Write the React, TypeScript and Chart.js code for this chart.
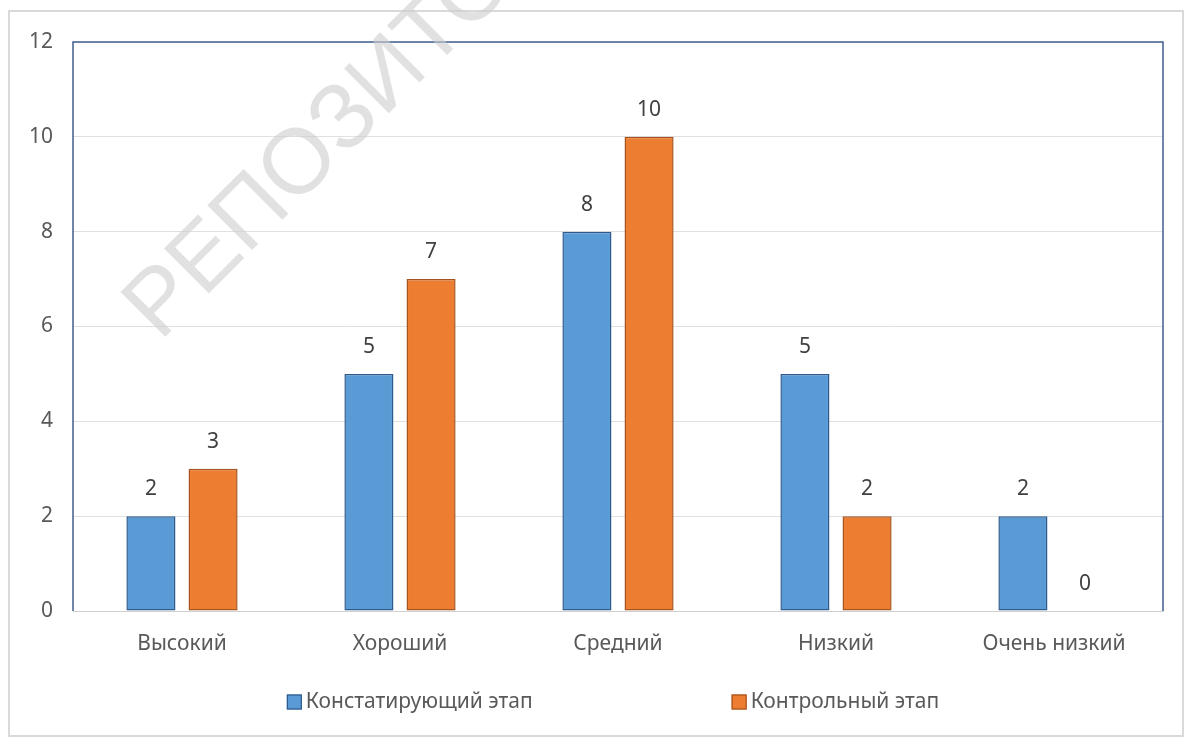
import React, { useEffect, useRef } from "react";
import { Chart, registerables } from "chart.js";

Chart.register(...registerables);

const categories = ["Высокий", "Хороший", "Средний", "Низкий", "Очень низкий"];
const seriesNames = ["Констатирующий этап", "Контрольный этап"];
const ascertainingValues = [2, 5, 8, 5, 2];
const controlValues = [3, 7, 10, 2, 0];
const yTicks = [0, 2, 4, 6, 8, 10, 12];
const watermarkText = "РЕПОЗИТОРИЙ";

const FONT = "'Noto Sans', 'Open Sans', sans-serif";
const TEXT = "#595959";

const framePlugin = {
  id: "frame",
  beforeDraw(chart: any) {
    const ctx = chart.ctx;
    ctx.save();
    ctx.fillStyle = "#ffffff";
    ctx.fillRect(0, 0, chart.width, chart.height);
    ctx.strokeStyle = "#d9d9d9";
    ctx.lineWidth = 2;
    ctx.strokeRect(9, 11, chart.width - 19, chart.height - 12);
    ctx.restore();
  },
  beforeDatasetsDraw(chart: any) {
    const { ctx, chartArea } = chart;
    ctx.save();
    ctx.strokeStyle = "#3f5f8f";
    ctx.lineWidth = 1.5;
    ctx.beginPath();
    ctx.moveTo(chartArea.left, chartArea.bottom);
    ctx.lineTo(chartArea.left, chartArea.top);
    ctx.lineTo(chartArea.right, chartArea.top);
    ctx.lineTo(chartArea.right, chartArea.bottom);
    ctx.stroke();
    ctx.restore();
  },
};

const valueLabelPlugin = {
  id: "valueLabels",
  afterDatasetsDraw(chart: any) {
    const ctx = chart.ctx;
    ctx.save();
    ctx.font = `21px ${FONT}`;
    ctx.fillStyle = "#404040";
    ctx.textAlign = "center";
    ctx.textBaseline = "middle";
    chart.data.datasets.forEach((ds: any, i: number) => {
      const meta = chart.getDatasetMeta(i);
      meta.data.forEach((bar: any, j: number) => {
        ctx.fillText(String(ds.data[j]), bar.x, bar.y - 27);
      });
    });
    ctx.restore();
  },
};

const legendPlugin = {
  id: "customLegend",
  afterDraw(chart: any) {
    const { ctx, chartArea } = chart;
    ctx.save();
    ctx.font = `21px ${FONT}`;
    ctx.textBaseline = "middle";
    ctx.textAlign = "left";
    const box = 15;
    const gapText = 4;
    const gapItems = 199;
    const items = chart.data.datasets.map((ds: any) => ({
      label: ds.label,
      fill: ds.backgroundColor,
      stroke: ds.borderColor,
      w: box + gapText + ctx.measureText(ds.label).width,
    }));
    const total = items.reduce((s: number, it: any) => s + it.w, 0) + gapItems * (items.length - 1);
    let x = (chartArea.left + chartArea.right) / 2 - 5 - total / 2;
    const y = 702;
    items.forEach((it: any) => {
      ctx.fillStyle = it.fill;
      ctx.fillRect(x, y - box / 2, box, box);
      ctx.strokeStyle = it.stroke;
      ctx.lineWidth = 1.2;
      ctx.strokeRect(x + 0.5, y - box / 2 + 0.5, box - 1, box - 1);
      ctx.fillStyle = TEXT;
      ctx.fillText(it.label, x + box + gapText, y);
      x += it.w + gapItems;
    });
    ctx.restore();
  },
};

const watermarkPlugin = {
  id: "watermark",
  afterDraw(chart: any) {
    const ctx = chart.ctx;
    ctx.save();
    ctx.translate(160, 342);
    ctx.rotate((-45 * Math.PI) / 180);
    ctx.font = `92px 'Liberation Sans', sans-serif`;
    ctx.fillStyle = "rgba(205,205,205,0.6)";
    ctx.textAlign = "left";
    ctx.textBaseline = "alphabetic";
    ctx.fillText(watermarkText, 0, 0);
    ctx.restore();
  },
};

export default function App() {
  const ref = useRef<HTMLCanvasElement | null>(null);

  useEffect(() => {
    document.body.style.margin = "0";
    const canvas = ref.current;
    if (!canvas) return;
    const chart = new Chart(canvas, {
      type: "bar",
      data: {
        labels: categories,
        datasets: [
          {
            label: seriesNames[0],
            data: ascertainingValues,
            backgroundColor: "#5b9bd5",
            borderColor: "#2f5b8c",
            borderWidth: 1.5,
            borderSkipped: false,
            categoryPercentage: 0.57,
            barPercentage: 0.79,
          },
          {
            label: seriesNames[1],
            data: controlValues,
            backgroundColor: "#ed7d31",
            borderColor: "#a5541f",
            borderWidth: 1.5,
            borderSkipped: false,
            categoryPercentage: 0.57,
            barPercentage: 0.79,
          },
        ],
      },
      options: {
        responsive: false,
        animation: false,
        layout: { padding: { left: 0, top: 42, right: 30, bottom: 76 } },
        plugins: {
          legend: { display: false },
          tooltip: { enabled: false },
        },
        scales: {
          x: {
            grid: { display: false, drawTicks: false },
            border: { display: true, color: "#d0d0d0", width: 1 },
            ticks: { color: TEXT, font: { family: FONT, size: 21 }, padding: 20 },
            afterFit: (axis: any) => {
              axis.height = 50;
            },
          },
          y: {
            min: 0,
            max: 12,
            afterBuildTicks: (axis: any) => {
              axis.ticks = yTicks.map((v) => ({ value: v }));
            },
            grid: { color: "#e0e0e0", lineWidth: 1, drawTicks: false },
            border: { display: false },
            ticks: { color: TEXT, font: { family: FONT, size: 21 }, padding: 20 },
            afterFit: (axis: any) => {
              axis.width = 73;
            },
          },
        },
      },
      plugins: [framePlugin, valueLabelPlugin, legendPlugin, watermarkPlugin],
    });
    return () => chart.destroy();
  }, []);

  return <canvas ref={ref} width={1193} height={737} style={{ display: "block" }} />;
}
